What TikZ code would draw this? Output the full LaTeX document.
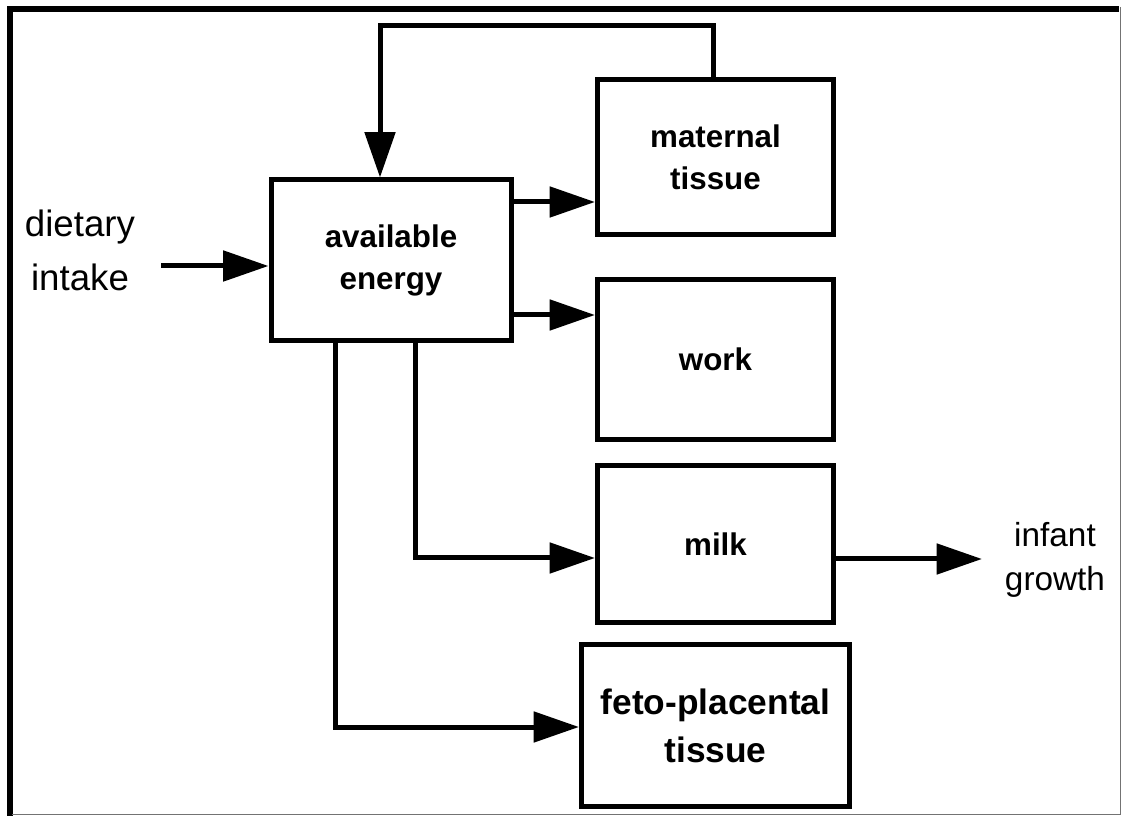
\documentclass[tikz,border=0pt]{standalone}
\usepackage{fontspec}
\setmainfont{Liberation Sans}
\usetikzlibrary{arrows.meta}
\begin{document}
\begin{tikzpicture}[x=0.75pt,y=-0.75pt,
  line width=3.75pt,
  box/.style={draw, rectangle, inner sep=0pt, align=center,
    font=\bfseries\fontsize{23.5}{31.5}\selectfont},
  label/.style={inner sep=0pt, align=center},
  flow/.style={-{Triangle[length=34pt,width=22.5pt]}},
  edge line/.style={line width=0.6pt, draw=black!55}
]
\useasboundingbox (0,0) rectangle (1122,816);

% frame: heavy left and top rules, hairline right and bottom
\draw[line width=4.5pt] (10,816) -- (10,9.5) -- (1119,9.5);
\draw[edge line] (1120,7) -- (1120,814.5) -- (12,814.5);

% boxes
\node[box, minimum width=180pt, minimum height=120.75pt] (avail) at (391,260.5) {available\\energy};
\node[box, minimum width=177pt, minimum height=116.25pt] (mat) at (715.5,157) {maternal\\tissue};
\node[box, minimum width=177pt, minimum height=120pt] (work) at (715.5,359.5) {work};
\node[box, minimum width=177pt, minimum height=117.75pt] (milk) at (715.5,544) {milk};
\node[box, minimum width=201pt, minimum height=121.5pt,
      font=\bfseries\fontsize{26.5}{36}\selectfont] (feto) at (715.5,725.5) {feto-placental\\tissue};

% outer labels
\node[label, font=\fontsize{27.5}{40.5}\selectfont] (diet) at (80,250) {dietary\\intake};
\node[label, font=\fontsize{25}{33}\selectfont] (infant) at (1055,560) {infant\\growth};

\coordinate (dstart) at (161,266);
\coordinate (iend) at (982,559);

% connectors
\draw[flow] (dstart) -- (dstart -| avail.west);
\draw[flow] (avail.east |- 0,202) -- (mat.west |- 0,202);
\draw[flow] (avail.east |- 0,315) -- (work.west |- 0,315);
\draw[flow] (avail.south -| 415.5,0) -- (415.5,558) -- (milk.west |- 0,558);
\draw[flow] (avail.south -| 335.5,0) -- (335.5,727) -- (feto.west |- 0,727);
\draw[flow] (mat.north -| 713,0) -- (713,25.5) -- (380,25.5) -- (avail.north -| 380,0);
\draw[flow] (milk.east |- iend) -- (iend);
\end{tikzpicture}
\end{document}
